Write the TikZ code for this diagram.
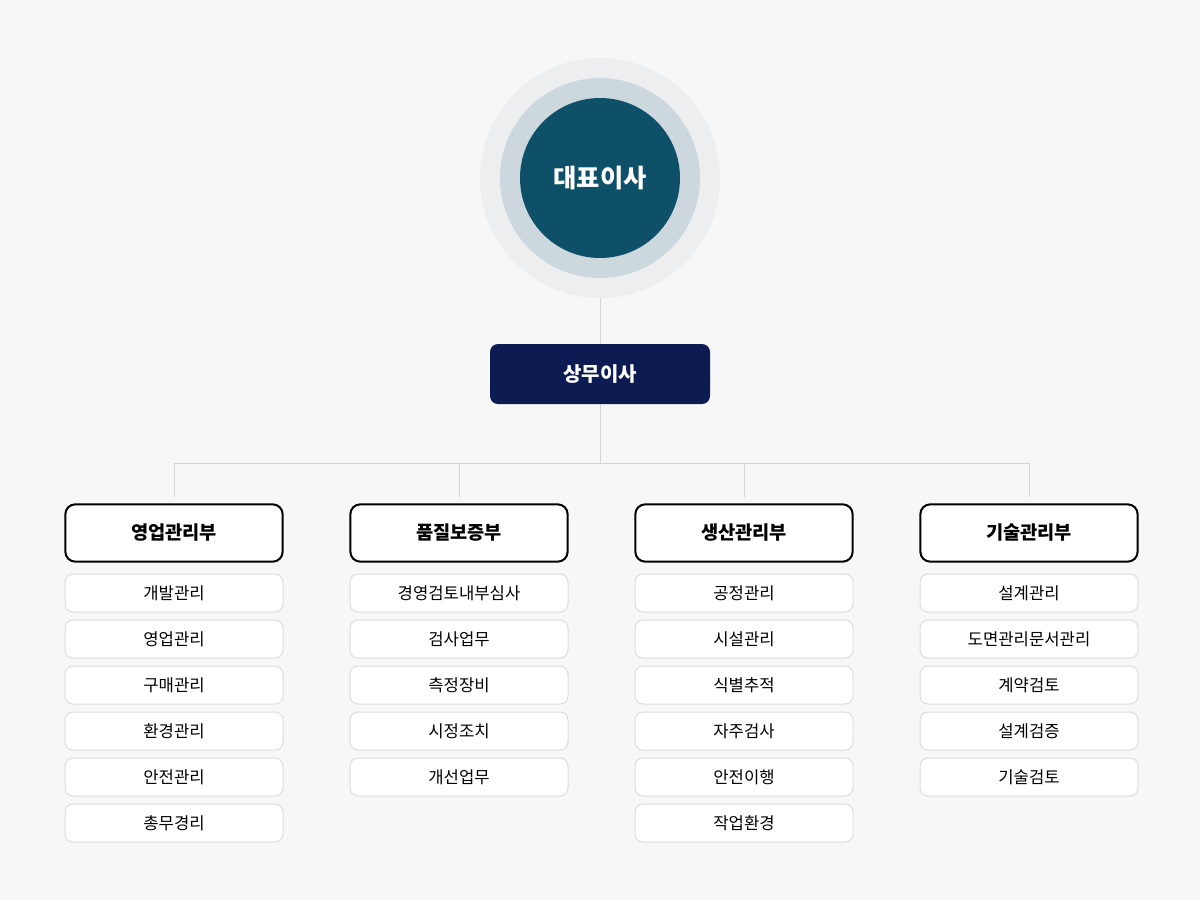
\documentclass[tikz,border=0pt]{standalone}
\usepackage{fontspec}
\setmainfont{Noto Sans CJK KR}
\definecolor{bgc}{HTML}{F7F7F7}
\definecolor{ring1}{HTML}{ECEEF0}
\definecolor{ring2}{HTML}{CDD8DE}
\definecolor{ceoc}{HTML}{0E5068}
\definecolor{navy}{HTML}{0C1C52}
\definecolor{linec}{HTML}{D4D4D4}
\definecolor{itemb}{HTML}{DDDDDD}
\tikzset{
  px/.style={x=0.75pt,y=-0.75pt},
  dept/.style={draw=black,line width=1.5pt,fill=white,rounded corners=7.5pt,minimum width=163pt,minimum height=43pt,font=\fontsize{14}{16}\selectfont\bfseries,inner sep=0pt},
  item/.style={draw=itemb,line width=0.75pt,fill=white,rounded corners=6pt,minimum width=163.5pt,minimum height=28.5pt,font=\fontsize{12.5}{14}\selectfont,inner sep=0pt},
  conn/.style={draw=linec,line width=0.75pt},
}
\begin{document}
\begin{tikzpicture}[px]
\fill[bgc] (0,0) rectangle (1200,900);
\useasboundingbox (0,0) rectangle (1200,900);
\fill[ring1] (600,178) circle[radius=120];
\fill[ring2] (600,178) circle[radius=100];
\node[circle,fill=ceoc,minimum size=120pt,inner sep=0pt,text=white,font=\fontsize{19}{22}\selectfont\bfseries] (ceo) at (600,178) {대표이사};
\coordinate (ceob) at (600,298);
\node[fill=navy,rounded corners=6pt,minimum width=165pt,minimum height=45pt,inner sep=0pt,text=white,font=\fontsize{15}{18}\selectfont\bfseries] (md) at (600,374) {상무이사};
\draw[conn] (ceob) -- (md.north);
\coordinate (hub) at (600,463);
\draw[conn] (md.south) -- (hub);
\node[dept] (d1) at (174,533) {영업관리부};
\node[dept] (d2) at (459,533) {품질보증부};
\node[dept] (d3) at (744,533) {생산관리부};
\node[dept] (d4) at (1029,533) {기술관리부};
\coordinate (h1) at (174,463);
\coordinate (h4) at (1029,463);
\draw[conn] (h1) -- (h4);
\foreach \i/\x in {1/174,2/459,3/744,4/1029}{
  \coordinate (t\i) at (\x,463);
  \coordinate (e\i) at (\x,497);
  \draw[conn] (t\i) -- (e\i);
}
% items
\foreach \t [count=\k] in {개발관리,영업관리,구매관리,환경관리,안전관리,총무경리}
  \node[item] (a\k) at (174,{593+46*(\k-1)}) {\t};
\foreach \t [count=\k] in {경영검토내부심사,검사업무,측정장비,시정조치,개선업무}
  \node[item] (b\k) at (459,{593+46*(\k-1)}) {\t};
\foreach \t [count=\k] in {공정관리,시설관리,식별추적,자주검사,안전이행,작업환경}
  \node[item] (c\k) at (744,{593+46*(\k-1)}) {\t};
\foreach \t [count=\k] in {설계관리,도면관리문서관리,계약검토,설계검증,기술검토}
  \node[item] (f\k) at (1029,{593+46*(\k-1)}) {\t};
\end{tikzpicture}
\end{document}
